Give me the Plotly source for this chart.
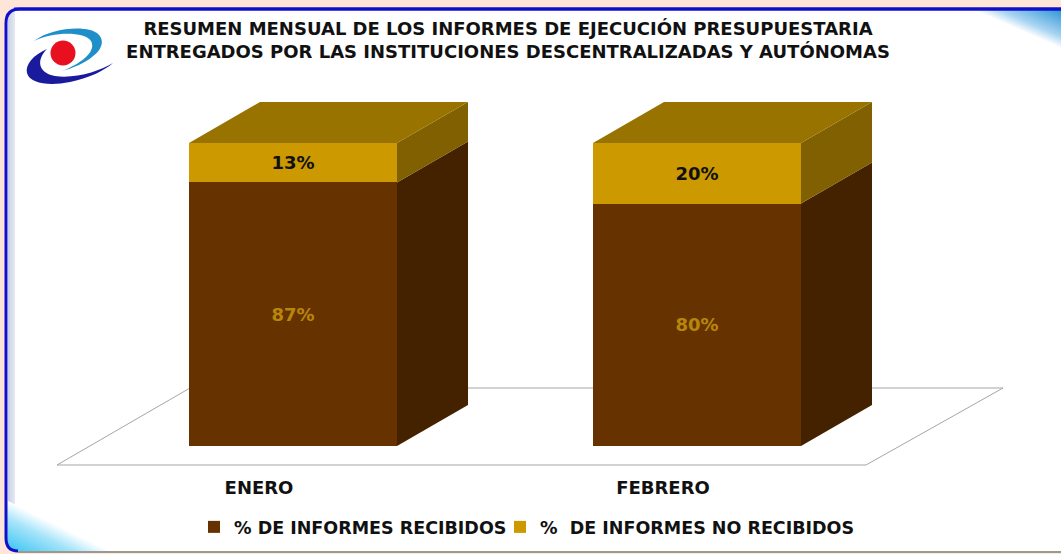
import base64
import plotly.graph_objects as go

# ---- data ----
months = ["ENERO", "FEBRERO"]
received = [87, 80]
not_received = [13, 20]
name_received = "% DE INFORMES RECIBIDOS"
name_not = "%  DE INFORMES NO RECIBIDOS"
title_lines = ["RESUMEN MENSUAL DE LOS INFORMES DE EJECUCIÓN PRESUPUESTARIA",
               "ENTREGADOS POR LAS INSTITUCIONES DESCENTRALIZADAS Y AUTÓNOMAS"]

# ---- style ----
W, H = 1061, 554
C_BROWN, C_BROWN_SIDE = "#663300", "#442200"
C_GOLD, C_GOLD_SIDE, C_GOLD_TOP = "#CC9900", "#806000", "#997300"
PX_X = 404.0   # pixels per category
PX_Y = 3.03    # pixels per percent
X0, Y0 = 293, 446  # pixel of first category / zero
BAR_W = 208 / PX_X
DX, DY = 71 / PX_X, 41 / PX_Y
LABEL_SHIFT = -34 / PX_X

bg_svg = f'''<svg xmlns="http://www.w3.org/2000/svg" width="{W}" height="{H}" viewBox="0 0 {W} {H}">
<defs>
<linearGradient id="tr" gradientUnits="userSpaceOnUse" x1="1061" y1="10" x2="1047" y2="42"><stop offset="0" stop-color="#2f97d6"/><stop offset="0.7" stop-color="#a9d4f2"/><stop offset="1" stop-color="#ffffff"/></linearGradient>
<linearGradient id="bl" gradientUnits="userSpaceOnUse" x1="6" y1="551" x2="26" y2="510"><stop offset="0" stop-color="#35c3f2"/><stop offset="0.65" stop-color="#a6e4fa"/><stop offset="1" stop-color="#ffffff"/></linearGradient>
<linearGradient id="ls" x1="0" y1="0" x2="1" y2="0"><stop offset="0" stop-color="#c9d2e6"/><stop offset="1" stop-color="#e6e9f2"/></linearGradient>
<clipPath id="fr"><rect x="6" y="9" width="1080" height="542" rx="14"/></clipPath>
</defs>
<rect x="0" y="0" width="{W}" height="{H}" fill="#fde5d8"/>
<rect x="6" y="9" width="1080" height="542" rx="14" fill="#ffffff"/>
<g clip-path="url(#fr)">
<rect x="8" y="11" width="7" height="540" fill="url(#ls)"/>
<polygon points="975,10 1061,10 1061,48" fill="url(#tr)"/>
<polygon points="6,500 6,551 110,551" fill="url(#bl)"/>
</g>
<path d="M14,9 H1061" stroke="#1414c8" stroke-width="3" fill="none"/>
<path d="M1061,9 H20 Q6,9 6,23 V538 Q6,551 18,551" stroke="#1010cc" stroke-width="3" fill="none"/>
<path d="M18,552 H1061" stroke="#9a9a92" stroke-width="2" fill="none"/>
<path d="M34,41 C48,30 75,26 90,30 C105,34 106,47 92,57 C85,63 73,68 62,71 C80,64 97,52 91,41 C85,32 55,31 34,41 Z" fill="#1e8fc8"/>
<path d="M47,49 C33,55 25,65 27,73 C30,84 50,86 70,82 C90,78 105,70 113,63 C100,71 75,79 55,76 C38,73 36,60 47,49 Z" fill="#1a1a9c"/>
<circle cx="63" cy="53" r="12.5" fill="#e8101e"/>
</svg>'''
bg_uri = "data:image/svg+xml;base64," + base64.b64encode(bg_svg.encode()).decode()

x_pos = list(range(len(months)))
fig = go.Figure()

DATA_FONT = "DejaVu Sans"
fig.add_bar(x=x_pos, y=received, name=name_received, width=BAR_W, legend="legend",
            marker=dict(color=C_BROWN, line=dict(width=0)),
            text=[f"{v}%" for v in received], textposition="inside",
            insidetextanchor="middle", textangle=0,
            textfont=dict(family=DATA_FONT, size=18, color="#B8860B", weight=700))
fig.add_bar(x=x_pos, y=not_received, name=name_not, width=BAR_W, legend="legend2",
            marker=dict(color=C_GOLD, line=dict(width=0)),
            text=[f"{v}%" for v in not_received], textposition="inside",
            insidetextanchor="middle", textangle=0,
            textfont=dict(family=DATA_FONT, size=18, color="#111111", weight=700))


def poly(xs, ys, color):
    fig.add_scatter(x=xs, y=ys, mode="lines", fill="toself", fillcolor=color,
                    line=dict(width=0, color=color), hoverinfo="skip", showlegend=False)


for i, r, n in zip(x_pos, received, not_received):
    xr = i + BAR_W / 2
    xl = i - BAR_W / 2
    top = r + n
    poly([xr, xr + DX, xr + DX, xr, xr], [0, DY, r + DY, r, 0], C_BROWN_SIDE)
    poly([xr, xr + DX, xr + DX, xr, xr], [r, r + DY, top + DY, top, r], C_GOLD_SIDE)
    poly([xl, xr, xr + DX, xl + DX, xl], [top, top, top + DY, top + DY, top], C_GOLD_TOP)

# floor plane, drawn behind the bars
fx = [(p - X0) / PX_X for p in (57, 866, 1003, 190)]
fy = [(Y0 - p) / PX_Y for p in (465, 465, 388, 388)]
floor_path = "M" + " L".join(f"{a},{b}" for a, b in zip(fx, fy)) + " Z"

legend_font = dict(family="DejaVu Sans", size=17.5, color="#111111", weight=700)

fig.update_layout(
    width=W, height=H, margin=dict(l=0, r=0, t=0, b=0), autosize=False,
    paper_bgcolor="#fde5d8", plot_bgcolor="rgba(0,0,0,0)",
    barmode="stack", showlegend=True,
    title=dict(text="<br>".join(title_lines), x=508 / W, xanchor="center", y=1 - 35 / H, yanchor="top",
               font=dict(family="DejaVu Sans", size=18, color="#111111", weight=700)),
    xaxis=dict(range=[(0 - X0) / PX_X, (W - X0) / PX_X], domain=[0, 1], anchor="free",
               position=(H - 475) / H, tickmode="array",
               tickvals=[i + LABEL_SHIFT for i in x_pos], ticktext=months,
               tickfont=dict(family="DejaVu Sans", size=18, color="#111111", weight=700),
               showgrid=False, zeroline=False, showline=False, ticks="", fixedrange=True),
    yaxis=dict(range=[(Y0 - H) / PX_Y, Y0 / PX_Y], domain=[0, 1], visible=False, fixedrange=True),
    legend=dict(orientation="h", x=194 / W, xanchor="left", y=1 - 527 / H, yanchor="middle",
                bgcolor="rgba(0,0,0,0)", font=legend_font, itemwidth=30),
    legend2=dict(orientation="h", x=500 / W, xanchor="left", y=1 - 527 / H, yanchor="middle",
                 bgcolor="rgba(0,0,0,0)", font=legend_font, itemwidth=30),
    images=[dict(source=bg_uri, xref="paper", yref="paper", x=0, y=1, sizex=1, sizey=1,
                 xanchor="left", yanchor="top", sizing="stretch", layer="below")],
    shapes=[dict(type="path", path=floor_path, xref="x", yref="y", layer="below",
                 line=dict(color="#a6a6a6", width=1), fillcolor="#ffffff")],
)

fig.write_html("out.html", config={"displayModeBar": False},
               post_script="document.body.style.margin='0';document.body.style.overflow='hidden';")
